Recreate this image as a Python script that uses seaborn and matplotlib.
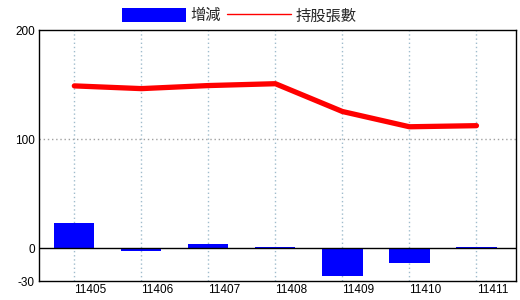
import numpy as np
import pandas as pd
import matplotlib
matplotlib.use("Agg")
import matplotlib.pyplot as plt
import seaborn as sns
from matplotlib.patches import Patch
from matplotlib.lines import Line2D
import matplotlib.transforms as mtransforms

months = ["11405", "11406", "11407", "11408", "11409", "11410", "11411"]
change = [23, -2.5, 4, 1.5, -25.5, -13.5, 1.5]
holding = [149, 146.5, 149.3, 151, 125.5, 111.5, 112.5]
yticks = [-30, 0, 100, 200]

sns.set_theme(style="white")
plt.rcParams["font.family"] = ["Liberation Sans", "Noto Sans CJK TC", "DejaVu Sans"]

df = pd.DataFrame({"month": months, "change": change, "holding": holding})

fig = plt.figure(figsize=(5.2, 3.0), dpi=100)
ax = fig.add_axes([39 / 520, 19 / 300, 477 / 520, 250.7 / 300])

# vertical dotted gridlines at categories
for i in range(len(months)):
    ax.axvline(i, color="#9fbccc", linestyle=(0, (1, 2)), linewidth=1.0, zorder=0)
ax.axhline(100, color="#a0a0a0", linestyle=(0, (1, 2)), linewidth=1.0, zorder=0)

sns.barplot(data=df, x="month", y="change", color="#0000ff", width=0.6,
            saturation=1, edgecolor="none", linewidth=0, ax=ax, zorder=2)
sns.lineplot(data=df, x="month", y="holding", color="#ff0000", linewidth=3.8,
             sort=False, ax=ax, zorder=3)
ax.axhline(0, color="black", linewidth=1.0, zorder=4)

ax.set_xlim(-0.527, 6.59)
ax.set_ylim(-30, 200)
ax.set_yticks(yticks)
ax.set_yticklabels([str(v) for v in yticks])
ax.set_xticks(np.arange(len(months)))
ax.set_xticklabels(months)
ax.set_xlabel("")
ax.set_ylabel("")
ax.tick_params(axis="both", length=0, labelsize=8.5, colors="black")
ax.tick_params(axis="y", pad=3)
ax.tick_params(axis="x", pad=2)
offset = mtransforms.ScaledTranslation(16 / 100, 0, fig.dpi_scale_trans)
for lbl in ax.get_xticklabels():
    lbl.set_transform(lbl.get_transform() + offset)
for sp in ax.spines.values():
    sp.set_color("black")
    sp.set_linewidth(1.0)
    sp.set_visible(True)
if ax.get_legend():
    ax.get_legend().remove()

handles = [Patch(facecolor="#0000ff", edgecolor="none", label="增減"),
           Line2D([], [], color="#ff0000", linewidth=1.0, label="持股張數")]
fig.legend(handles=handles, loc="center", bbox_to_anchor=(0.46, 0.947), ncol=2,
           frameon=False, fontsize=11, handlelength=4.2, handleheight=1.05,
           handletextpad=0.27, columnspacing=0.4, borderpad=0,
           prop={"family": ["Noto Sans CJK TC", "DejaVu Sans"], "size": 11})

fig.savefig("out.png", dpi=100)
